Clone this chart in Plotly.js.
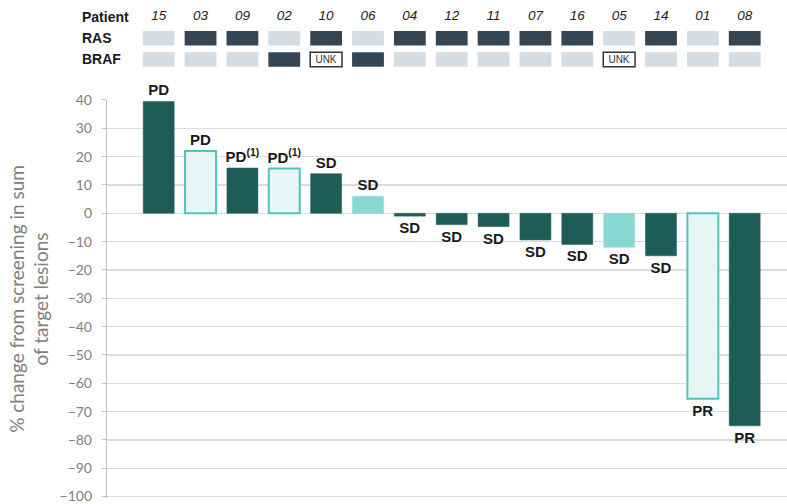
<!DOCTYPE html>
<html><head><meta charset="utf-8">
<script src="https://cdn.plot.ly/plotly-3.0.1.min.js"></script>
<style>html,body{margin:0;padding:0;background:#fff}#c{width:787px;height:504px}</style>
</head><body><div id="c"></div>
<script>
var patients = ['15','03','09','02','10','06','04','12','11','07','16','05','14','01','08'];
var changes = [39.5, 22, 16, 15.8, 14, 6, -1, -4, -4.7, -9.4, -11, -12, -15, -65.5, -75];
var responses = ['PD','PD','PD<sup>(1)</sup>','PD<sup>(1)</sup>','SD','SD','SD','SD','SD','SD','SD','SD','SD','PR','PR'];
var barStyle = ['dark','outline','dark','outline','dark','light','dark','dark','dark','dark','dark','light','dark','outline','dark'];
var ras = ['WT','MUT','MUT','WT','MUT','WT','MUT','MUT','MUT','MUT','MUT','WT','MUT','WT','MUT'];
var braf = ['WT','WT','WT','MUT','UNK','MUT','WT','WT','WT','WT','WT','UNK','WT','WT','WT'];
var rowLabels = ['Patient','RAS','BRAF'];

var idx = patients.map(function(_, i){ return i; });
var fillMap = {dark:'#1e5c58', outline:'#e5f6f5', light:'#88d9d4'};
var lineMap = {dark:'#1e5c58', outline:'#4fc4bc', light:'#88d9d4'};
var lwMap = {dark:0.5, outline:2, light:0.5};

var tFill = {WT:'#d3dde3', MUT:'#344653', UNK:'#ffffff'};
var tLine = {WT:'#d3dde3', MUT:'#344653', UNK:'#333333'};
var tLw = {WT:0, MUT:0, UNK:1.5};

function rowTrace(vals, row){
  return {
    type:'bar', x: idx, y: vals.map(function(){return 0.68;}),
    base: vals.map(function(){return row - 0.34;}),
    width: 0.76, xaxis:'x', yaxis:'y2',
    marker:{color: vals.map(function(v){return tFill[v];}),
            line:{color: vals.map(function(v){return tLine[v];}), width: vals.map(function(v){return tLw[v];})}},
    text: vals.map(function(v){return v==='UNK'?'UNK':' ';}),
    textposition:'inside', insidetextanchor:'middle', constraintext:'none',
    textfont:{family:'Liberation Sans, Arial, sans-serif', size:10, color:'#333'},
    hoverinfo:'skip', showlegend:false
  };
}

var data = [
  {
    type:'bar', x: idx, y: changes, width: 0.74,
    marker:{color: barStyle.map(function(s){return fillMap[s];}),
            line:{color: barStyle.map(function(s){return lineMap[s];}), width: barStyle.map(function(s){return lwMap[s];})}},
    text: responses, textposition:'outside', constraintext:'none', cliponaxis:false,
    textfont:{family:'Liberation Sans, Arial, sans-serif', size:15, color:'#1a1a1a'},
    texttemplate:'<b>%{text}</b>',
    showlegend:false, hoverinfo:'skip'
  },
  rowTrace(ras, 1),
  rowTrace(braf, 2),
  {
    type:'scatter', mode:'text', x: idx, y: idx.map(function(){return 0;}),
    xaxis:'x', yaxis:'y2',
    text: patients.map(function(p){return '<i>'+p+'</i>';}),
    textfont:{family:'Liberation Sans, Arial, sans-serif', size:13.5, color:'#222'},
    textposition:'middle center', showlegend:false, hoverinfo:'skip', cliponaxis:false
  }
];

var annotations = rowLabels.map(function(l, r){
  return {xref:'paper', yref:'y2', x:-0.039, y:r, xanchor:'left', yanchor:'middle',
          text:'<b>'+l+'</b>', showarrow:false,
          font:{family:'Liberation Sans, Arial, sans-serif', size:14, color:'#1a1a1a'}};
});

var layout = {
  width:787, height:504,
  margin:{l:107, r:0, t:0, b:6, pad:0},
  paper_bgcolor:'#fff', plot_bgcolor:'#fff',
  barmode:'overlay',
  font:{family:'Lato, Liberation Sans, sans-serif'},
  xaxis:{range:[-1.235, 15.01], showgrid:false, zeroline:false, showline:false,
         showticklabels:false, ticks:'', fixedrange:true},
  yaxis:{domain:[0, 0.7992], range:[-100.5, 40], tickvals:[40,30,20,10,0,-10,-20,-30,-40,-50,-60,-70,-80,-90,-100],
         ticklabeloverflow:'allow',
         showgrid:true, gridcolor:'#dcdcdc', gridwidth:1.2,
         zeroline:false, showline:true, linecolor:'#bfbfbf', linewidth:1.2,
         ticks:'outside', ticklen:4, tickcolor:'#bfbfbf', ticklabelstandoff:7,
         tickfont:{family:'Lato, Liberation Sans, sans-serif', size:14, color:'#7f7f7f'},
         title:{text:'% change from screening in sum<br>of target lesions', standoff:5,
                font:{family:'Lato, Liberation Sans, sans-serif', size:19, color:'#808080'}}},
  yaxis2:{domain:[0.8394, 1], range:[2.965, -0.8], anchor:'x',
          showgrid:false, zeroline:false, showline:false, showticklabels:false, ticks:''},
  annotations: annotations
};

Plotly.newPlot('c', data, layout, {staticPlot:true, displayModeBar:false});
</script></body></html>
